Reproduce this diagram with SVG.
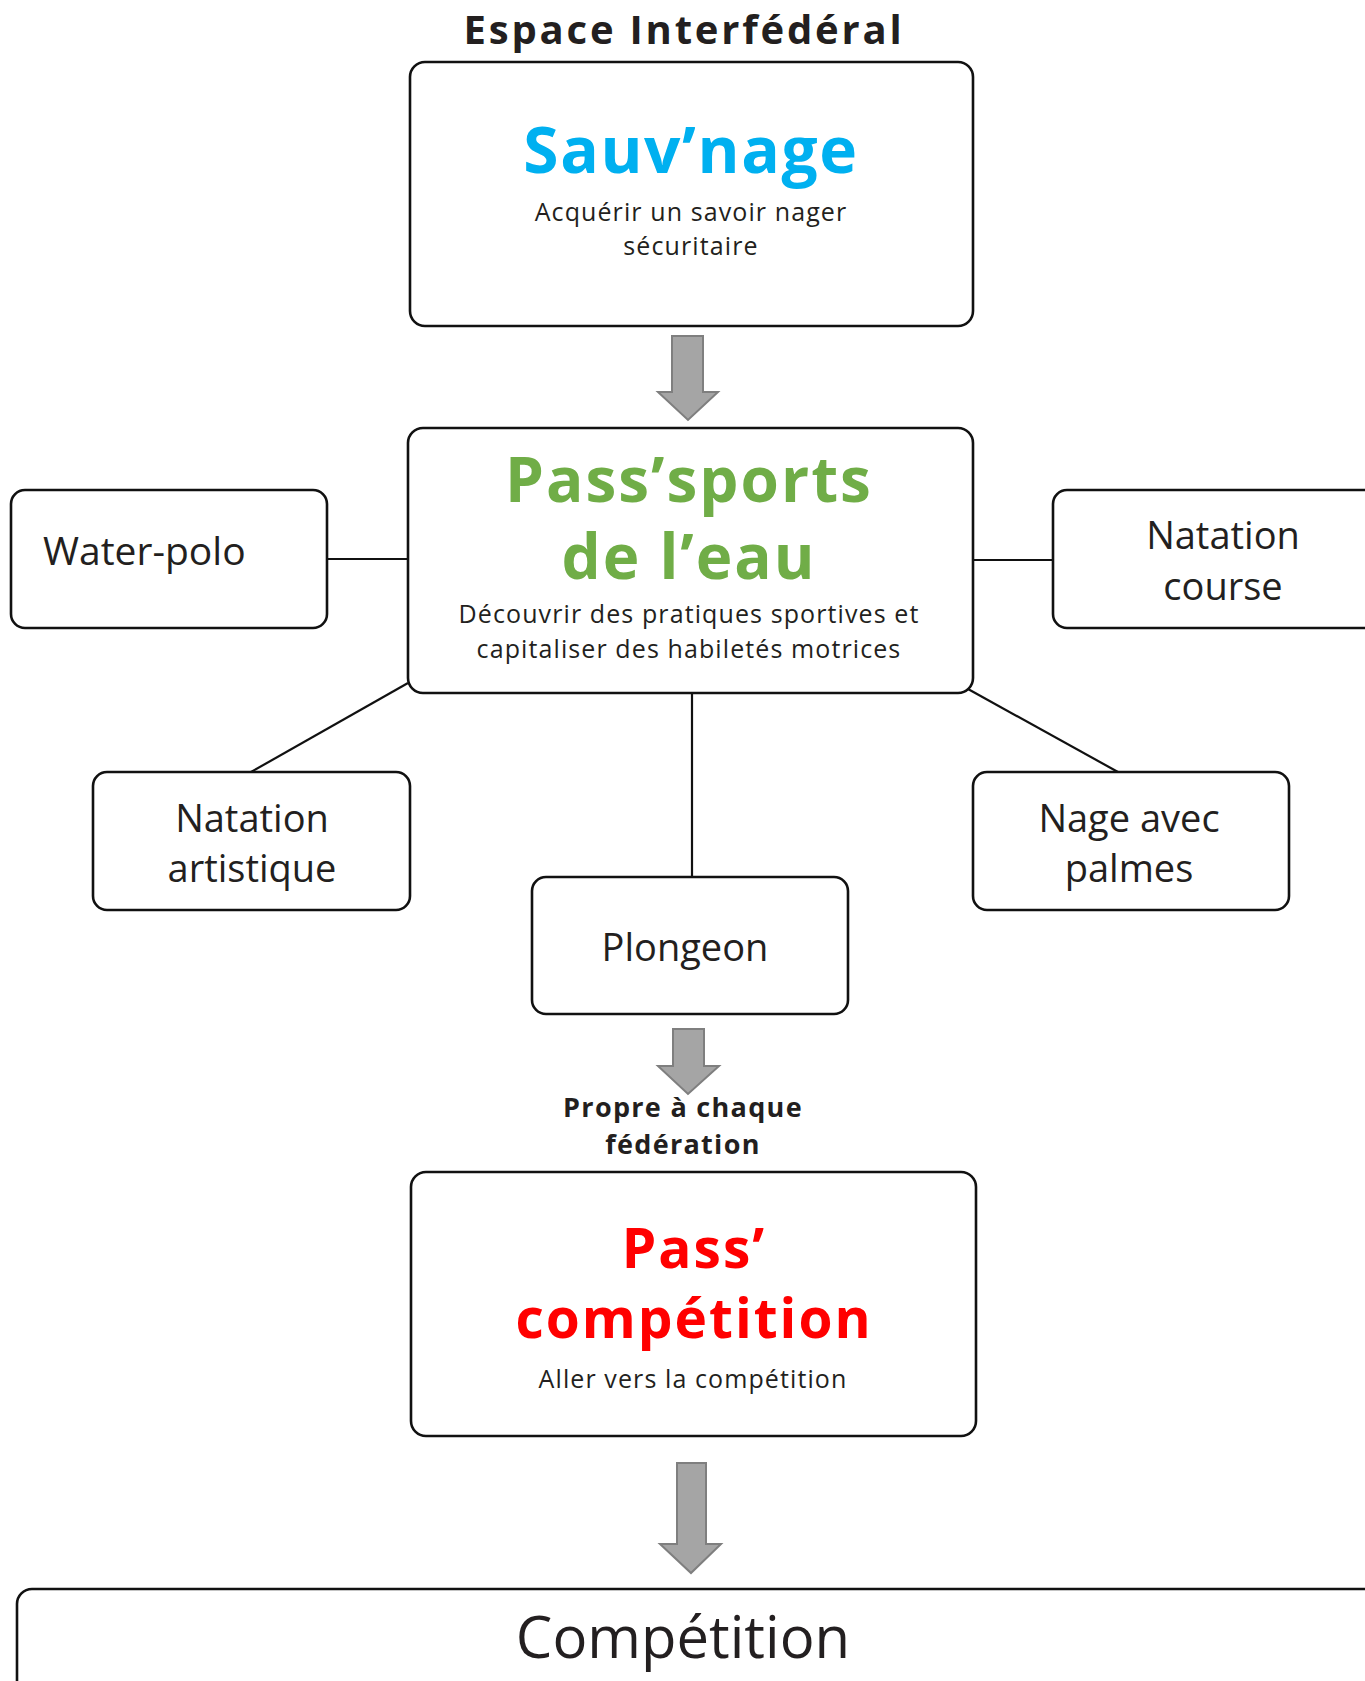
<svg xmlns="http://www.w3.org/2000/svg" width="1365" height="1681" viewBox="0 0 1365 1681">
<style>
.box{fill:#fff;stroke:#111;stroke-width:2.6}
.conn{stroke:#111;stroke-width:2.2;fill:none}
.arr{fill:#a5a5a5;stroke:#7f7f7f;stroke-width:2}
.lbl{font-family:"Open Sans","Liberation Sans",sans-serif;font-size:38px;fill:#231f20;text-anchor:middle}
.sub{font-family:"Open Sans","Liberation Sans",sans-serif;font-size:25px;letter-spacing:1.1px;fill:#231f20;text-anchor:middle}
.head{font-family:"Open Sans","Liberation Sans",sans-serif;font-weight:bold;text-anchor:middle}
</style>
<rect width="1365" height="1681" fill="#fff"/>
<text x="684" y="44" class="head" font-size="40" letter-spacing="2.8" fill="#231f20">Espace Interfédéral</text>
<g id="connectors">
<line class="conn" x1="327" y1="559" x2="407" y2="559"/>
<line class="conn" x1="973" y1="560" x2="1053" y2="560"/>
<line class="conn" x1="408" y1="683" x2="251" y2="772"/>
<line class="conn" x1="692" y1="694" x2="692" y2="877"/>
<line class="conn" x1="968" y1="689" x2="1118" y2="772"/>
<polygon class="arr" points="672,336 703,336 703,392 718,392 688,420 658,392 672,392"/>
<polygon class="arr" points="673,1029 704,1029 704,1066 719,1066 688,1094 658,1066 673,1066"/>
<polygon class="arr" points="677,1463 706,1463 706,1544 721,1544 691,1573 660,1544 677,1544"/>
</g>
<g id="sauvnage">
<rect class="box" x="410" y="62" width="563" height="264" rx="15"/>
<text x="691" y="173" class="head" font-size="64" letter-spacing="1.6" fill="#00b0f0">Sauv’nage</text>
<text x="691" y="221" class="sub">Acquérir un savoir nager</text>
<text x="691" y="255" class="sub">sécuritaire</text>
</g>
<g id="passsports">
<rect class="box" x="408" y="428" width="565" height="265" rx="15"/>
<text x="689" y="502" class="head" font-size="62" letter-spacing="2" fill="#70ad47">Pass’sports</text>
<text x="689" y="579" class="head" font-size="62" letter-spacing="2" fill="#70ad47">de l’eau</text>
<text x="689" y="623" class="sub">Découvrir des pratiques sportives  et</text>
<text x="689" y="658" class="sub">capitaliser des habiletés motrices</text>
</g>
<g id="waterpolo">
<rect class="box" x="11" y="490" width="316" height="138" rx="14"/>
<text x="43" y="565" class="lbl" style="text-anchor:start;font-size:39px">Water-polo</text>
</g>
<g id="natationcourse">
<rect class="box" x="1053" y="490" width="330" height="138" rx="14"/>
<text x="1223" y="549" class="lbl">Natation</text>
<text x="1223" y="600" class="lbl">course</text>
</g>
<g id="natationartistique">
<rect class="box" x="93" y="772" width="317" height="138" rx="14"/>
<text x="252" y="832" class="lbl">Natation</text>
<text x="252" y="882" class="lbl">artistique</text>
</g>
<g id="plongeon">
<rect class="box" x="532" y="877" width="316" height="137" rx="14"/>
<text x="685" y="961" class="lbl">Plongeon</text>
</g>
<g id="nageavecpalmes">
<rect class="box" x="973" y="772" width="316" height="138" rx="14"/>
<text x="1129" y="832" class="lbl">Nage avec</text>
<text x="1129" y="882" class="lbl">palmes</text>
</g>
<text x="683" y="1117" class="head" font-size="27" letter-spacing="1.3" fill="#231f20">Propre à chaque</text>
<text x="683" y="1154" class="head" font-size="27" letter-spacing="1.3" fill="#231f20">fédération</text>
<g id="passcompetition">
<rect class="box" x="411" y="1172" width="565" height="264" rx="15"/>
<text x="694" y="1268" class="head" font-size="55" letter-spacing="2" fill="#ff0000">Pass’</text>
<text x="694" y="1338" class="head" font-size="55" letter-spacing="2" fill="#ff0000">compétition</text>
<text x="693" y="1388" class="sub">Aller vers la compétition</text>
</g>
<g id="competition">
<rect class="box" x="17" y="1589" width="1370" height="130" rx="15"/>
<text x="683" y="1658" class="lbl" style="font-size:58px">Compétition</text>
</g>
</svg>
